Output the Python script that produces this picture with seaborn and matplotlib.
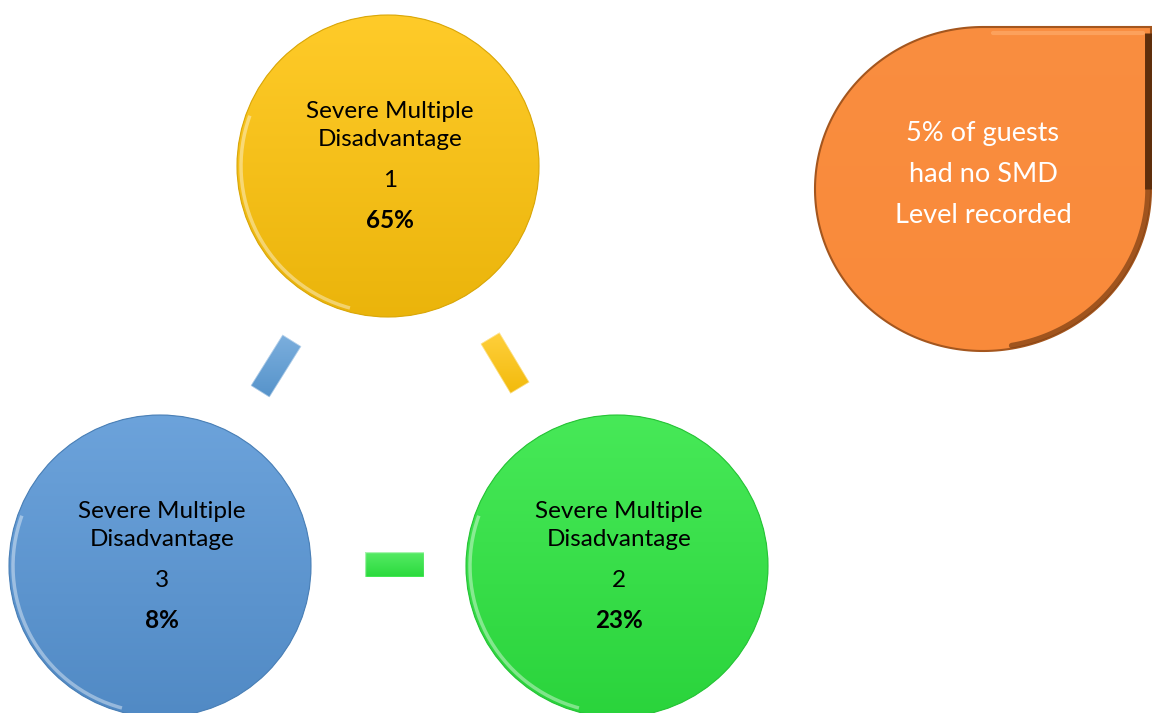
#%% Imports
import numpy as np
import matplotlib.pyplot as plt
import matplotlib.patches as mpatches
from matplotlib.colors import to_rgb
import seaborn as sns

#%% Data
levels = [1, 2, 3]
shares = [65, 23, 8]
level_label = ["Severe Multiple", "Disadvantage"]
no_level_share = 5
note_lines = [f"{no_level_share}% of guests", "had no SMD", "Level recorded"]

level_colors = ["#FFC40C", "#2EE641", "#5896D6"]
note_color = "#F98A3A"

#%% Layout (pixel space of the 1152x713 canvas, y pointing down)
centres = [(388, 166), (617, 566), (160, 566)]
radius = 151
note_centre = (983, 189)
note_rx, note_ry = 168, 162
# connector bars: centre, length, width, angle of long side (deg, screen)
bars = [((276, 366), 60, 22, 58, "#5B9BD5"),
        ((505, 363), 58, 22, -59, "#FFC40C"),
        ((394, 564), 59, 25, 0, "#2EE641")]


# Fill a patch with a soft vertical gradient (lighter at top)
def shade(ax, patch, color, y0, y1, x0, x1, light=0.12, dark=0.08):
    c = np.array(to_rgb(color))
    t = np.linspace(0, 1, 200)[:, None, None]
    top = c + (1 - c) * light
    bot = c * (1 - dark)
    img = top * (1 - t) + bot * t
    img = np.repeat(img, 2, axis=1)
    im = ax.imshow(img, extent=(x0, x1, y1, y0), origin="upper", zorder=2,
                   interpolation="bilinear")
    im.set_clip_path(patch)


def bar_corners(c, length, width, ang):
    a = np.deg2rad(ang)
    u = np.array([np.cos(a), -np.sin(a)]) * length / 2
    v = np.array([np.sin(a), np.cos(a)]) * width / 2
    c = np.array(c)
    return np.array([c + u + v, c + u - v, c - u - v, c - u + v])


#%% Plot
sns.set_theme(style="white")
plt.rcParams['font.family'] = ['Lato', 'DejaVu Sans']

fig = plt.figure(figsize=(11.52, 7.13), dpi=100)
ax = fig.add_axes([0, 0, 1, 1])

# level circles
for (cx, cy), lvl, share, col in zip(centres, levels, shares, level_colors):
    circ = mpatches.Circle((cx, cy), radius, facecolor=col, edgecolor="none", zorder=1)
    ax.add_patch(circ)
    shade(ax, circ, col, cy - radius, cy + radius, cx - radius, cx + radius)
    ax.add_patch(mpatches.Circle((cx, cy), radius, facecolor="none",
                                 edgecolor=np.array(to_rgb(col)) * 0.85, lw=0.8, zorder=3))
    ax.add_patch(mpatches.Arc((cx, cy), 2 * radius - 8, 2 * radius - 8, theta1=105, theta2=200,
                              color="white", alpha=0.4, lw=2.5, zorder=3))
    ax.text(cx + 2, cy - 48, level_label[0], ha="center", va="baseline", fontsize=17.5,
            color="black", zorder=4)
    ax.text(cx + 2, cy - 20, level_label[1], ha="center", va="baseline", fontsize=17.5,
            color="black", zorder=4)
    ax.text(cx + 2, cy + 21, str(lvl), ha="center", va="baseline", fontsize=17.5,
            color="black", zorder=4)
    ax.text(cx + 2, cy + 62, f"{share}%", ha="center", va="baseline", fontsize=17.5,
            fontweight="bold", color="black", zorder=4)

# connector bars
for c, length, width, ang, col in bars:
    pts = bar_corners(c, length, width, ang)
    bar = mpatches.Polygon(pts, closed=True, facecolor=col, edgecolor="none", zorder=1)
    ax.add_patch(bar)
    ys, xs = pts[:, 1], pts[:, 0]
    shade(ax, bar, col, ys.min(), ys.max(), xs.min(), xs.max(), light=0.2, dark=0.05)
    ax.add_patch(mpatches.Polygon(pts, closed=True, facecolor="none",
                                  edgecolor="white", alpha=0.5, lw=1, zorder=3))

# teardrop note
nx, ny = note_centre
t = np.deg2rad(np.linspace(90, 360, 200))
outline = np.column_stack([nx + note_rx * np.cos(t), ny - note_ry * np.sin(t)])
outline = np.vstack([outline, [nx + note_rx, ny - note_ry]])
drop = mpatches.Polygon(outline, closed=True, facecolor=note_color, edgecolor="none", zorder=1)
ax.add_patch(drop)
shade(ax, drop, note_color, ny - note_ry, ny + note_ry, nx - note_rx, nx + note_rx,
      light=0.03, dark=0.0)
ax.add_patch(mpatches.Polygon(outline, closed=True, facecolor="none",
                              edgecolor="#A4561E", lw=1.5, zorder=3))
# darker bevel along the right side and lower-right arc
tr = np.deg2rad(np.linspace(280, 360, 60))
ax.plot(nx + (note_rx - 3) * np.cos(tr), ny - (note_ry - 3) * np.sin(tr),
        color="#7A3D12", lw=4, alpha=0.7, zorder=3)
ax.plot([nx + note_rx - 3, nx + note_rx - 3], [ny - note_ry + 6, ny],
        color="#5E2E0C", lw=5, zorder=3, solid_capstyle="butt")
ax.plot([nx + 10, nx + note_rx - 8], [ny - note_ry + 6, ny - note_ry + 6],
        color="#FFB070", lw=3, alpha=0.6, zorder=3)
for i, line in enumerate(note_lines):
    ax.text(nx, ny - 48 + 41 * i, line, ha="center", va="baseline", fontsize=19.5,
            color="white", zorder=4)

ax.set_xlim(0, 1152)
ax.set_ylim(713, 0)
ax.set_aspect("equal")
ax.axis("off")

fig.savefig("out.png", dpi=100, facecolor="white")
